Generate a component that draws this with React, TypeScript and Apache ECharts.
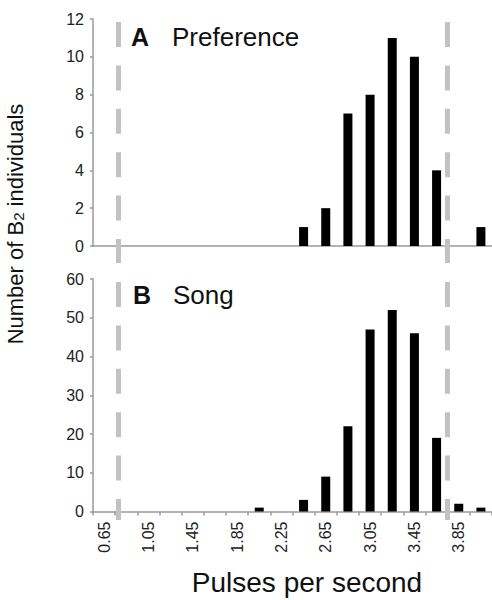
import React, { useEffect, useRef } from "react";
import * as echarts from "echarts";

const categories = ["0.65", "0.85", "1.05", "1.25", "1.45", "1.65", "1.85", "2.05", "2.25", "2.45", "2.65", "2.85", "3.05", "3.25", "3.45", "3.65", "3.85", "4.05"];
const preference = [0, 0, 0, 0, 0, 0, 0, 0, 0, 1, 2, 7, 8, 11, 10, 4, 0, 1];
const song = [0, 0, 0, 0, 0, 0, 0, 1, 0, 3, 9, 22, 47, 52, 46, 19, 2, 1];
const cutoffs = [0.78, 3.75];
const prefTicks = { min: 0, max: 12, interval: 2 };
const songTicks = { min: 0, max: 60, interval: 10 };

const FONT = '"Liberation Sans", Arial, Helvetica, sans-serif';
const AXIS = "#9a9a9a";
const DASH = "#c2c2c2";

export default function App() {
  const ref = useRef<HTMLDivElement>(null);
  useEffect(() => {
    if (!ref.current) return;
    const chart = echarts.init(ref.current, undefined, { renderer: "svg" });
    const yAxisCommon = {
      type: "value" as const,
      axisLine: { show: true, lineStyle: { color: AXIS, width: 1.5 } },
      axisTick: { show: true, length: 3, lineStyle: { color: AXIS, width: 1.5 } },
      axisLabel: { fontSize: 16, color: "#222", fontFamily: FONT, margin: 9 },
      splitLine: { show: false },
    };
    const dashLine = {
      symbol: "none",
      silent: true,
      label: { show: false },
      lineStyle: { color: DASH, width: 5, type: [25, 18.4] },
      data: cutoffs.map((v) => ({ xAxis: v })),
    };
    chart.setOption({
      animation: false,
      grid: [
        { left: 93, right: 0, top: 19, height: 227 },
        { left: 93, right: 0, top: 279, height: 232.5 },
        { left: 93, right: 0, top: 22, bottom: 337 },
        { left: 93, right: 0, top: 282, bottom: 80 },
      ],
      xAxis: [
        {
          type: "category",
          gridIndex: 0,
          data: categories,
          axisLine: { lineStyle: { color: AXIS, width: 1.5 } },
          axisTick: { show: false },
          axisLabel: { show: false },
        },
        {
          type: "category",
          gridIndex: 1,
          data: categories,
          axisLine: { lineStyle: { color: AXIS, width: 1.5 } },
          axisTick: { show: true, interval: 0, length: 4, lineStyle: { color: AXIS, width: 1.5 } },
          axisLabel: { interval: 1, rotate: 90, fontSize: 16, color: "#222", fontFamily: FONT, margin: 10 },
        },
        { type: "value", gridIndex: 2, min: 0.55, max: 4.15, show: false },
        { type: "value", gridIndex: 3, min: 0.55, max: 4.15, show: false },
      ],
      yAxis: [
        { ...yAxisCommon, gridIndex: 0, ...prefTicks },
        { ...yAxisCommon, gridIndex: 1, ...songTicks },
        { type: "value", gridIndex: 2, min: 0, max: 1, inverse: true, show: false },
        { type: "value", gridIndex: 3, min: 0, max: 1, inverse: true, show: false },
      ],
      series: [
        { type: "bar", xAxisIndex: 0, yAxisIndex: 0, data: preference, barWidth: 9, itemStyle: { color: "#000" } },
        { type: "bar", xAxisIndex: 1, yAxisIndex: 1, data: song, barWidth: 9, itemStyle: { color: "#000" } },
        { type: "line", xAxisIndex: 2, yAxisIndex: 2, data: [], markLine: dashLine },
        { type: "line", xAxisIndex: 3, yAxisIndex: 3, data: [], markLine: dashLine },
      ],
      graphic: [
        { type: "text", x: 131, y: 37, style: { text: "A", font: `bold 25px ${FONT}`, fill: "#111", verticalAlign: "middle", align: "left" } },
        { type: "text", x: 172, y: 37, style: { text: "Preference", font: `26px ${FONT}`, fill: "#111", verticalAlign: "middle", align: "left" } },
        { type: "text", x: 133, y: 295, style: { text: "B", font: `bold 25px ${FONT}`, fill: "#111", verticalAlign: "middle", align: "left" } },
        { type: "text", x: 173, y: 295, style: { text: "Song", font: `26px ${FONT}`, fill: "#111", verticalAlign: "middle", align: "left" } },
        {
          type: "text",
          x: 15,
          y: 224,
          rotation: Math.PI / 2,
          style: {
            text: "Number of B{sub|2} individuals",
            fontSize: 22,
            fontFamily: FONT,
            fill: "#111",
            align: "center",
            verticalAlign: "middle",
            rich: { sub: { fontSize: 15, fontFamily: FONT, fill: "#111", verticalAlign: "bottom", lineHeight: 15 } },
          },
        },
        { type: "text", x: 307, y: 582, style: { text: "Pulses per second", fontSize: 28, fontFamily: FONT, fill: "#111", align: "center", verticalAlign: "middle" } },
      ],
    });
    return () => chart.dispose();
  }, []);
  return <div ref={ref} style={{ position: "fixed", left: 0, top: 0, width: 492, height: 600, background: "#fff" }} />;
}
